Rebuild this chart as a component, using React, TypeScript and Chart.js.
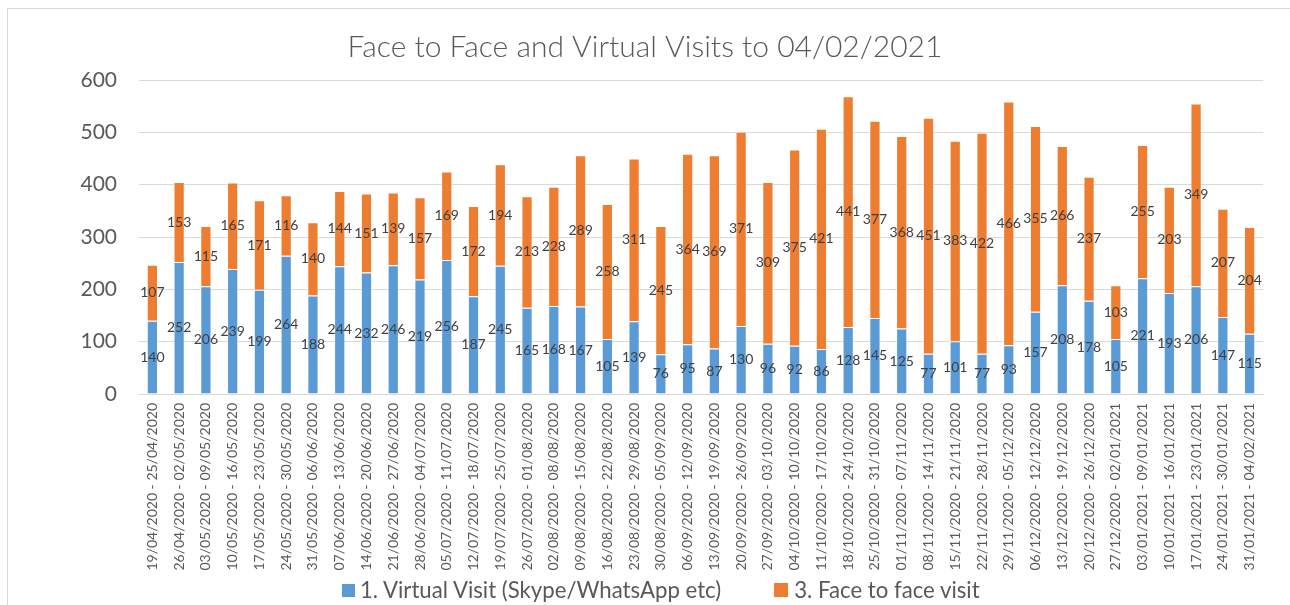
import React, { useEffect, useRef } from "react";
import { Chart, registerables } from "chart.js";

Chart.register(...registerables);

const categories: string[] = [
  "19/04/2020 - 25/04/2020", "26/04/2020 - 02/05/2020", "03/05/2020 - 09/05/2020", "10/05/2020 - 16/05/2020",
  "17/05/2020 - 23/05/2020", "24/05/2020 - 30/05/2020", "31/05/2020 - 06/06/2020", "07/06/2020 - 13/06/2020",
  "14/06/2020 - 20/06/2020", "21/06/2020 - 27/06/2020", "28/06/2020 - 04/07/2020", "05/07/2020 - 11/07/2020",
  "12/07/2020 - 18/07/2020", "19/07/2020 - 25/07/2020", "26/07/2020 - 01/08/2020", "02/08/2020 - 08/08/2020",
  "09/08/2020 - 15/08/2020", "16/08/2020 - 22/08/2020", "23/08/2020 - 29/08/2020", "30/08/2020 - 05/09/2020",
  "06/09/2020 - 12/09/2020", "13/09/2020 - 19/09/2020", "20/09/2020 - 26/09/2020", "27/09/2020 - 03/10/2020",
  "04/10/2020 - 10/10/2020", "11/10/2020 - 17/10/2020", "18/10/2020 - 24/10/2020", "25/10/2020 - 31/10/2020",
  "01/11/2020 - 07/11/2020", "08/11/2020 - 14/11/2020", "15/11/2020 - 21/11/2020", "22/11/2020 - 28/11/2020",
  "29/11/2020 - 05/12/2020", "06/12/2020 - 12/12/2020", "13/12/2020 - 19/12/2020", "20/12/2020 - 26/12/2020",
  "27/12/2020 - 02/01/2021", "03/01/2021 - 09/01/2021", "10/01/2021 - 16/01/2021", "17/01/2021 - 23/01/2021",
  "24/01/2021 - 30/01/2021", "31/01/2021 - 04/02/2021",
];

const virtualVisits: number[] = [
  140, 252, 206, 239, 199, 264, 188, 244, 232, 246, 219, 256, 187, 245, 165, 168, 167, 105, 139, 76, 95,
  87, 130, 96, 92, 86, 128, 145, 125, 77, 101, 77, 93, 157, 208, 178, 105, 221, 193, 206, 147, 115,
];

const faceToFaceVisits: number[] = [
  107, 153, 115, 165, 171, 116, 140, 144, 151, 139, 157, 169, 172, 194, 213, 228, 289, 258, 311, 245, 364,
  369, 371, 309, 375, 421, 441, 377, 368, 451, 383, 422, 466, 355, 266, 237, 103, 255, 203, 349, 207, 204,
];

const yTicks: number[] = [0, 100, 200, 300, 400, 500, 600];

const seriesNames: string[] = ["1. Virtual Visit (Skype/WhatsApp etc)", "3. Face to face visit"];
const seriesColors: string[] = ["#5B9BD5", "#ED7D31"];
const titleText = "Face to Face and Virtual Visits to 04/02/2021";

const FONT = "Lato, 'Open Sans', sans-serif";

const dataLabelPlugin = {
  id: "stackLabels",
  afterDatasetsDraw(chart: any) {
    const ctx = chart.ctx;
    ctx.save();
    ctx.font = `14px ${FONT}`;
    ctx.fillStyle = "#404040";
    ctx.textAlign = "center";
    ctx.textBaseline = "middle";
    chart.data.datasets.forEach((ds: any, di: number) => {
      const meta = chart.getDatasetMeta(di);
      if (meta.hidden) return;
      meta.data.forEach((el: any, i: number) => {
        const v = ds.data[i];
        const y = (el.y + el.base) / 2;
        ctx.fillText(String(v), el.x, y);
      });
    });
    ctx.restore();
  },
};

export default function App() {
  const ref = useRef<HTMLCanvasElement | null>(null);

  useEffect(() => {
    if (!ref.current) return;
    const chart = new Chart(ref.current, {
      type: "bar",
      data: {
        labels: categories,
        datasets: [
          {
            label: seriesNames[0],
            data: virtualVisits,
            backgroundColor: seriesColors[0],
            borderColor: "rgba(255,255,255,0.5)",
            borderWidth: 1,
            barPercentage: 0.42,
            categoryPercentage: 1,
          },
          {
            label: seriesNames[1],
            data: faceToFaceVisits,
            backgroundColor: seriesColors[1],
            borderColor: "rgba(255,255,255,0.5)",
            borderWidth: 1,
            barPercentage: 0.42,
            categoryPercentage: 1,
          },
        ],
      },
      options: {
        responsive: false,
        animation: false,
        devicePixelRatio: 1,
        layout: { padding: { left: 0, right: 0, top: 0, bottom: 0 } },
        plugins: {
          title: {
            display: true,
            text: titleText,
            color: "#595959",
            font: { family: FONT, size: 30, weight: "300" as any },
            padding: { top: 29, bottom: 15 },
          },
          legend: { display: false },
          tooltip: { enabled: false },
        },
        scales: {
          x: {
            stacked: true,
            grid: { display: false, drawTicks: false },
            border: { display: true, color: "#d9d9d9", width: 1 },
            ticks: {
              color: "#595959",
              font: { family: FONT, size: 14 },
              minRotation: 90,
              maxRotation: 90,
              autoSkip: false,
              padding: 9,
            },
            afterFit(scale: any) {
              scale.height = 605 - 394;
            },
          },
          y: {
            stacked: true,
            min: 0,
            max: 600,
            afterBuildTicks(scale: any) {
              scale.ticks = yTicks.map((v) => ({ value: v }));
            },
            grid: { color: "#d9d9d9", lineWidth: 1, drawTicks: false },
            border: { display: false },
            ticks: {
              color: "#595959",
              font: { family: FONT, size: 21 },
              padding: 22,
            },
            afterFit(scale: any) {
              scale.width = 139;
            },
          },
          yRightSpacer: {
            type: "linear",
            position: "right",
            display: true,
            grid: { display: false, drawTicks: false },
            border: { display: false },
            ticks: { display: false },
            afterFit(scale: any) {
              scale.width = 27;
            },
          },
        },
      },
      plugins: [dataLabelPlugin],
    });
    return () => chart.destroy();
  }, []);

  const legendText: React.CSSProperties = {
    fontFamily: FONT,
    fontSize: 22.2,
    color: "#595959",
    lineHeight: "24px",
    whiteSpace: "nowrap",
  };

  return (
    <div style={{ position: "absolute", left: 0, top: 0, width: 1290, height: 605, background: "#fff", overflow: "hidden" }}>
      <canvas ref={ref} width={1290} height={605} style={{ position: "absolute", left: 0, top: 0 }} />
      <div
        style={{
          position: "absolute",
          left: 7,
          top: 8,
          width: 1290,
          height: 605,
          borderLeft: "1px solid #d9d9d9",
          borderTop: "1px solid #d9d9d9",
          boxSizing: "border-box",
          pointerEvents: "none",
        }}
      />
      <div style={{ position: "absolute", left: 342, top: 578, display: "flex", alignItems: "center" }}>
        <span style={{ display: "inline-block", width: 13, height: 13, background: seriesColors[0], marginRight: 5 }} />
        <span style={legendText}>{seriesNames[0]}</span>
        <span style={{ display: "inline-block", width: 14, height: 14, background: seriesColors[1], marginLeft: 53, marginRight: 6 }} />
        <span style={legendText}>{seriesNames[1]}</span>
      </div>
    </div>
  );
}
